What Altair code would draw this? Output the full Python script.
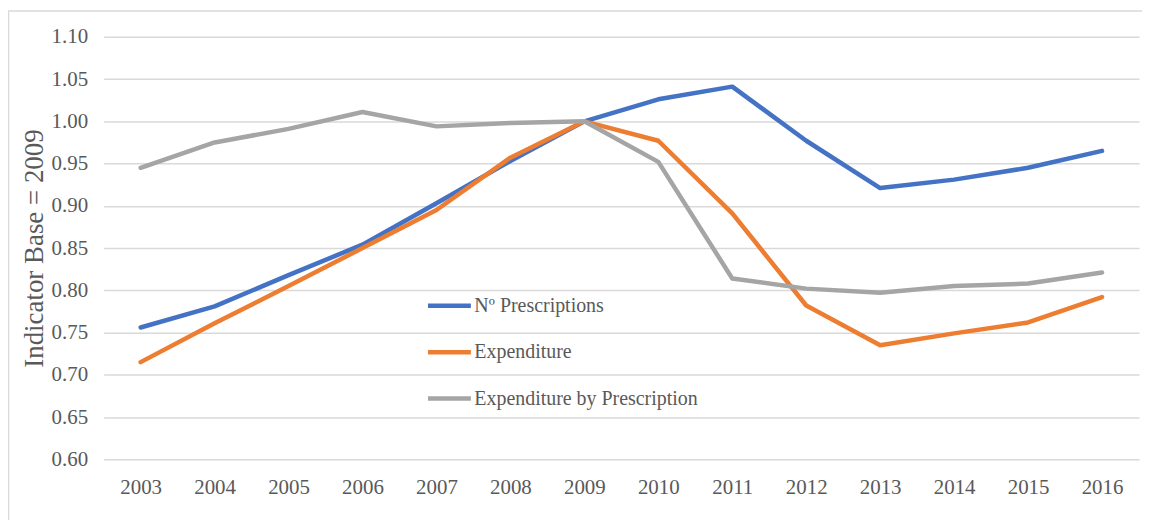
import altair as alt
import pandas as pd

years = [str(y) for y in range(2003, 2017)]
series_names = ["Nº Prescriptions", "Expenditure", "Expenditure by Prescription"]
prescriptions = [0.756, 0.781, 0.818, 0.854, 0.903, 0.953, 1.000, 1.026, 1.041, 0.977, 0.921, 0.931, 0.945, 0.965]
expenditure = [0.715, 0.761, 0.805, 0.850, 0.895, 0.957, 1.000, 0.977, 0.891, 0.782, 0.735, 0.749, 0.762, 0.792]
exp_by_presc = [0.945, 0.975, 0.991, 1.011, 0.994, 0.998, 1.000, 0.952, 0.814, 0.802, 0.797, 0.805, 0.808, 0.821]
colors = ["#4472C4", "#ED7D31", "#A5A5A5"]
y_ticks = [0.60, 0.65, 0.70, 0.75, 0.80, 0.85, 0.90, 0.95, 1.00, 1.05, 1.10]

rows = []
for name, vals in zip(series_names, [prescriptions, expenditure, exp_by_presc]):
    for yr, v in zip(years, vals):
        rows.append({"series": name, "year": yr, "value": v})
df = pd.DataFrame(rows)

FONT = "Liberation Serif"
TXT = "#595959"

lines = alt.Chart(df).mark_line(strokeWidth=4.5, strokeCap="round", strokeJoin="round").encode(
    x=alt.X("year:O", scale=alt.Scale(type="point", padding=0.5),
            axis=alt.Axis(title=None, labelAngle=0, ticks=False, domain=False, grid=False,
                          labelPadding=17, labelFont=FONT, labelFontSize=21, labelColor=TXT)),
    y=alt.Y("value:Q", scale=alt.Scale(domain=[0.6, 1.1], nice=False, zero=False),
            axis=alt.Axis(values=y_ticks, format=".2f", ticks=False, domain=False,
                          grid=True, gridColor="#d9d9d9", gridWidth=1.5,
                          labelPadding=16, labelFont=FONT, labelFontSize=21, labelColor=TXT,
                          title="Indicator Base = 2009", titleFont=FONT, titleFontSize=27,
                          titleFontWeight="normal", titleColor=TXT, titleAngle=-90,
                          titleX=-69, titleY=212, titleAlign="center", titleBaseline="middle")),
    color=alt.Color("series:N", sort=series_names,
                    scale=alt.Scale(domain=series_names, range=colors),
                    legend=alt.Legend(title=None, orient="none", legendX=323, legendY=246,
                                      symbolType="stroke", symbolSize=1850, symbolStrokeWidth=4.5,
                                      labelFont=FONT, labelFontSize=20, labelColor=TXT,
                                      labelLimit=1000, labelOffset=1, rowPadding=12.5, padding=0)),
    order=alt.Order("series_order:Q"),
).transform_calculate(
    series_order="indexof(['Nº Prescriptions','Expenditure','Expenditure by Prescription'], datum.series)"
)

frame = alt.Chart(pd.DataFrame({"a": [0]})).mark_rect(
    fill=None, stroke="#d9d9d9", strokeWidth=1.5
).encode(
    x=alt.value(-95.5), x2=alt.value(1100), y=alt.value(-26), y2=alt.value(700)
)

chart = alt.layer(frame, lines).properties(
    width=1039, height=424,
    padding={"left": 96, "top": 28, "right": 3, "bottom": 60},
    autosize=alt.AutoSizeParams(type="none"),
).configure_view(stroke=None)

chart.save("out.html", embed_options={"renderer": "svg", "actions": False})
